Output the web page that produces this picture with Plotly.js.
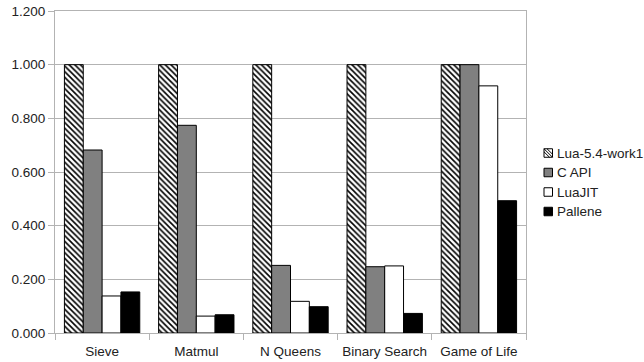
<!DOCTYPE html>
<html>
<head>
<meta charset="utf-8">
<script src="https://cdn.plot.ly/plotly-3.0.1.min.js"></script>
<style>html,body{margin:0;padding:0;background:#fff;}#chart{width:644px;height:362px;}</style>
</head>
<body>
<div id="chart"></div>
<script>
var categories = ["Sieve", "Matmul", "N Queens", "Binary Search", "Game of Life"];
var seriesNames = ["Lua-5.4-work1", "C API", "LuaJIT", "Pallene"];
var luaVals = [1.000, 1.000, 1.000, 1.000, 1.000];
var capiVals = [0.682, 0.774, 0.252, 0.247, 1.000];
var luajitVals = [0.138, 0.063, 0.118, 0.250, 0.921];
var palleneVals = [0.153, 0.068, 0.098, 0.073, 0.493];
var yTicks = [0, 0.2, 0.4, 0.6, 0.8, 1.0, 1.2];

var W = 644, H = 362;
var mL = 55, mR = 644 - 526, mT = 11, mB = 362 - 333;
var pw = W - mL - mR, ph = H - mT - mB;
function px(x) { return (x - mL) / pw; }
function py(y) { return (H - mB - y) / ph; }

var line = {color: "#000", width: 1};
var traces = [
  {type: "bar", name: seriesNames[0], x: categories, y: luaVals,
   marker: {color: "#fff", line: line, pattern: {shape: "\\", size: 4, solidity: 0.4, fgcolor: "#000", bgcolor: "#fff"}}},
  {type: "bar", name: seriesNames[1], x: categories, y: capiVals, marker: {color: "#808080", line: line}},
  {type: "bar", name: seriesNames[2], x: categories, y: luajitVals, marker: {color: "#ffffff", line: line}},
  {type: "bar", name: seriesNames[3], x: categories, y: palleneVals, marker: {color: "#000000", line: line}}
];

var fills = ["#fff", "#808080", "#fff", "#000"];
var itemY = [153, 172.5, 192, 211.5];
var shapes = [], annotations = [];
for (var i = 0; i < seriesNames.length; i++) {
  var cy = itemY[i];
  shapes.push({type: "rect", xref: "paper", yref: "paper",
    x0: px(544), x1: px(552.5), y0: py(cy + 4.25), y1: py(cy - 4.25),
    fillcolor: fills[i], line: {color: "#000", width: 1}});
  if (i === 0) {
    var d = "";
    d += "M" + px(544) + "," + py(cy - 4.25) + "L" + px(552.5) + "," + py(cy + 4.25);
    d += "M" + px(544) + "," + py(cy - 1.2) + "L" + px(549.5) + "," + py(cy + 4.25);
    d += "M" + px(547) + "," + py(cy - 4.25) + "L" + px(552.5) + "," + py(cy + 1.2);
    shapes.push({type: "path", xref: "paper", yref: "paper", path: d, line: {color: "#000", width: 1}});
  }
  annotations.push({xref: "paper", yref: "paper", x: px(554.5), y: py(cy), xanchor: "left", yanchor: "middle",
    text: seriesNames[i], showarrow: false, font: {size: 13.5, color: "#222"}});
}

var layout = {
  width: W, height: H,
  margin: {l: mL, r: mR, t: mT, b: mB, pad: 0},
  paper_bgcolor: "#fff", plot_bgcolor: "#fff",
  font: {family: "Liberation Sans, Arial, sans-serif", size: 13.5, color: "#222"},
  showlegend: false,
  barmode: "group", bargap: 0.2, bargroupgap: 0,
  xaxis: {type: "category", tickson: "boundaries", ticks: "outside", ticklen: 6, tickcolor: "#b3b3b3",
          showline: true, linecolor: "#b3b3b3", mirror: true, showgrid: false, zeroline: false,
          ticklabelstandoff: 6, tickfont: {size: 13.5}},
  yaxis: {range: [0, 1.2], tickvals: yTicks, tickformat: ".3f", ticks: "outside", ticklen: 6, tickcolor: "#b3b3b3",
          showline: true, linecolor: "#b3b3b3", mirror: true, gridcolor: "#b3b3b3", zeroline: false,
          tickfont: {size: 13.5}},
  shapes: shapes,
  annotations: annotations
};

Plotly.newPlot("chart", traces, layout, {staticPlot: true, displayModeBar: false});
</script>
</body>
</html>
